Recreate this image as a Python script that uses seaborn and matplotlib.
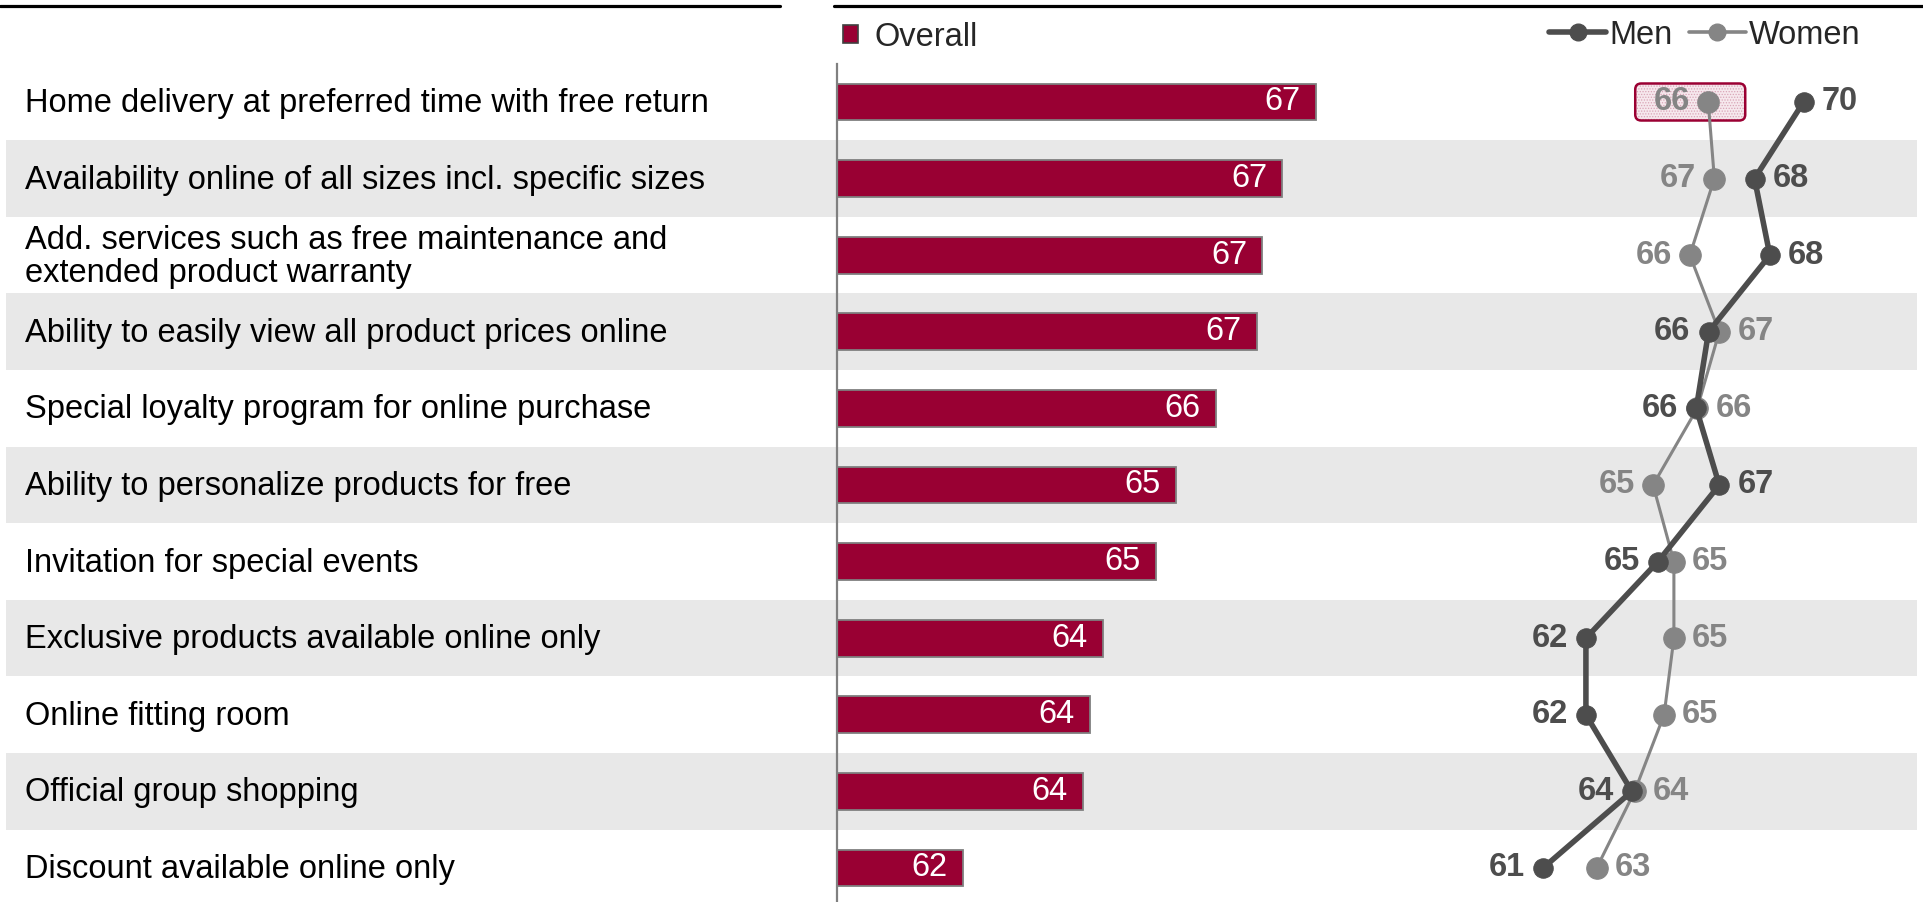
import numpy as np
import pandas as pd
import matplotlib
matplotlib.use("Agg")
import matplotlib.pyplot as plt
import matplotlib.transforms as mtransforms
from matplotlib.patches import FancyBboxPatch, Patch
from matplotlib.lines import Line2D
import seaborn as sns

# ---- data -------------------------------------------------------------
attributes = [
    "Home delivery at preferred time with free return",
    "Availability online of all sizes incl. specific sizes",
    "Add. services such as free maintenance and\nextended product warranty",
    "Ability to easily view all product prices online",
    "Special loyalty program for online purchase",
    "Ability to personalize products for free",
    "Invitation for special events",
    "Exclusive products available online only",
    "Online fitting room",
    "Official group shopping",
    "Discount available online only",
]
overall = [67.4, 66.9, 66.6, 66.52, 65.9, 65.3, 65.0, 64.2, 64.0, 63.9, 62.1]
men = [69.55, 67.95, 68.45, 66.45, 66.05, 66.8, 64.8, 62.45, 62.45, 63.95, 61.05]
women = [66.44, 66.64, 65.84, 66.8, 66.08, 64.64, 65.32, 65.32, 65.0, 64.04, 62.8]
highlight_row = 0  # women's score in this row gets a callout box

# ---- style ------------------------------------------------------------
BAR_C = "#990033"
MEN_C = "#4d4d4d"
WOMEN_C = "#858585"
BAND_C = "#e8e8e8"
FS = 23.5

sns.set_theme(style="white")
plt.rcParams["font.family"] = ["Liberation Sans", "DejaVu Sans"]
plt.rcParams["hatch.linewidth"] = 0.6

W, H, DPI = 1923, 902, 100
fig = plt.figure(figsize=(W / DPI, H / DPI), dpi=DPI)
fig.patch.set_facecolor("white")

n = len(attributes)
ROW_TOP, ROW_H = 63.7, 76.6
ROW_BOT = ROW_TOP + n * ROW_H


def px_axes(x0, x1, y_top, y_bot):
    return fig.add_axes([x0 / W, 1 - y_bot / H, (x1 - x0) / W, (y_bot - y_top) / H])


ax_bg = px_axes(6, 1917, ROW_TOP, ROW_BOT)
ax_bar = px_axes(837, 1917, ROW_TOP, ROW_BOT)
ax_line = px_axes(837, 1917, ROW_TOP, ROW_BOT)

for ax in (ax_bg, ax_bar, ax_line):
    ax.set_ylim(n - 0.5, -0.5)
    for s in ax.spines.values():
        s.set_visible(False)
    ax.set_xticks([])
    ax.set_yticks([])
    ax.set_xlabel("")
    ax.set_ylabel("")
ax_bar.patch.set_alpha(0)
ax_line.patch.set_alpha(0)

# ---- alternating bands and row labels ---------------------------------
ax_bg.set_xlim(0, 1)
for i, label in enumerate(attributes):
    if i % 2 == 1:
        ax_bg.axhspan(i - 0.5, i + 0.5, color=BAND_C, lw=0)
    ax_bg.text(18.5 / 1911, i + 0.02, label, ha="left", va="center",
               fontsize=FS, color="black", linespacing=1.1)

# ---- overall bars -----------------------------------------------------
df_bar = pd.DataFrame({"attribute": attributes, "overall": overall})
sns.barplot(data=df_bar, x="overall", y="attribute", orient="h",
            color=BAR_C, saturation=1, width=0.48,
            edgecolor="#7f7f7f", linewidth=1.3, ax=ax_bar)
ax_bar.set_xlim(60.2, 76.45)
ax_bar.set_ylim(n - 0.5, -0.5)
ax_bar.set_yticks([])
ax_bar.set_xlabel("")
ax_bar.set_ylabel("")
ax_bar.spines["left"].set_visible(True)
ax_bar.spines["left"].set_color("#808080")
ax_bar.spines["left"].set_linewidth(1.6)
for i, v in enumerate(overall):
    ax_bar.annotate(f"{v:.0f}", xy=(v, i), xytext=(-11, 0),
                    textcoords="offset points", ha="right", va="center",
                    fontsize=FS, color="white")

# ---- men / women lines ------------------------------------------------
rows = np.arange(n)
df_lines = pd.DataFrame({"row": rows, "Men": men, "Women": women})
sns.lineplot(data=df_lines, x="Women", y="row", orient="y", estimator=None,
             color=WOMEN_C, linewidth=2.2, marker="o", markersize=15.5,
             markeredgecolor=WOMEN_C, ax=ax_line, zorder=3)
sns.lineplot(data=df_lines, x="Men", y="row", orient="y", estimator=None,
             color=MEN_C, linewidth=4.0, marker="o", markersize=14,
             markeredgecolor=MEN_C, ax=ax_line, zorder=4)
ax_line.set_xlim(38.02, 73.25)
ax_line.set_ylim(n - 0.5, -0.5)
ax_line.set_xlabel("")
ax_line.set_ylabel("")
ax_line.set_yticks([])
ax_line.set_xticks([])

for i in range(n):
    m, w = men[i], women[i]
    left_first = m <= w
    for val, col, is_left in ((m, MEN_C, left_first), (w, WOMEN_C, not left_first)):
        ax_line.annotate(f"{val:.0f}", xy=(val, i),
                         xytext=(-13 if is_left else 13, 0),
                         textcoords="offset points",
                         ha="right" if is_left else "left", va="center",
                         fontsize=FS, fontweight="bold", color=col, zorder=6)

# callout box around the women's score in the highlighted row:
# a dotted pink fill plus a crimson rounded border
box_trans = fig.dpi_scale_trans + mtransforms.ScaledTranslation(
    women[highlight_row], highlight_row, ax_line.transData)
box_xy, box_w, box_h = (-0.73, -0.185), 1.10, 0.37
box_style = "round,pad=0,rounding_size=0.06"
ax_line.add_patch(FancyBboxPatch(box_xy, box_w, box_h, boxstyle=box_style,
                                 transform=box_trans, facecolor="#f6e8ed",
                                 edgecolor="#d9a5b7", hatch="......",
                                 linewidth=0, zorder=1))
ax_line.add_patch(FancyBboxPatch(box_xy, box_w, box_h, boxstyle=box_style,
                                 transform=box_trans, facecolor="none",
                                 edgecolor="#9b0033", linewidth=1.8, zorder=1.1))

# ---- legends ----------------------------------------------------------
fig.legend(handles=[Patch(facecolor=BAR_C, edgecolor="#404040", lw=1.2,
                          label="Overall")],
           loc="center left", bbox_to_anchor=(843 / W, 1 - 37 / H),
           frameon=False, fontsize=FS, handlelength=0.45,
           handleheight=0.45, handletextpad=0.5,
           borderaxespad=0, borderpad=0)

leg_handles = [
    Line2D([], [], color=MEN_C, lw=4.0, marker="o", markersize=12, label="Men"),
    Line2D([], [], color=WOMEN_C, lw=2.6, marker="o", markersize=12, label="Women"),
]
fig.legend(handles=leg_handles, loc="center right",
           bbox_to_anchor=(1860 / W, 1 - 35 / H), ncol=2, frameon=False,
           fontsize=FS, handlelength=1.75, handletextpad=0.08,
           columnspacing=0.5, borderaxespad=0, borderpad=0)

# ---- top rules --------------------------------------------------------
for x0, x1 in ((0, 780), (834, 1923)):
    fig.add_artist(Line2D([x0 / W, x1 / W], [1 - 6 / H, 1 - 6 / H],
                          transform=fig.transFigure, color="black", lw=2.3))

fig.savefig("out.png", dpi=DPI, facecolor="white")
